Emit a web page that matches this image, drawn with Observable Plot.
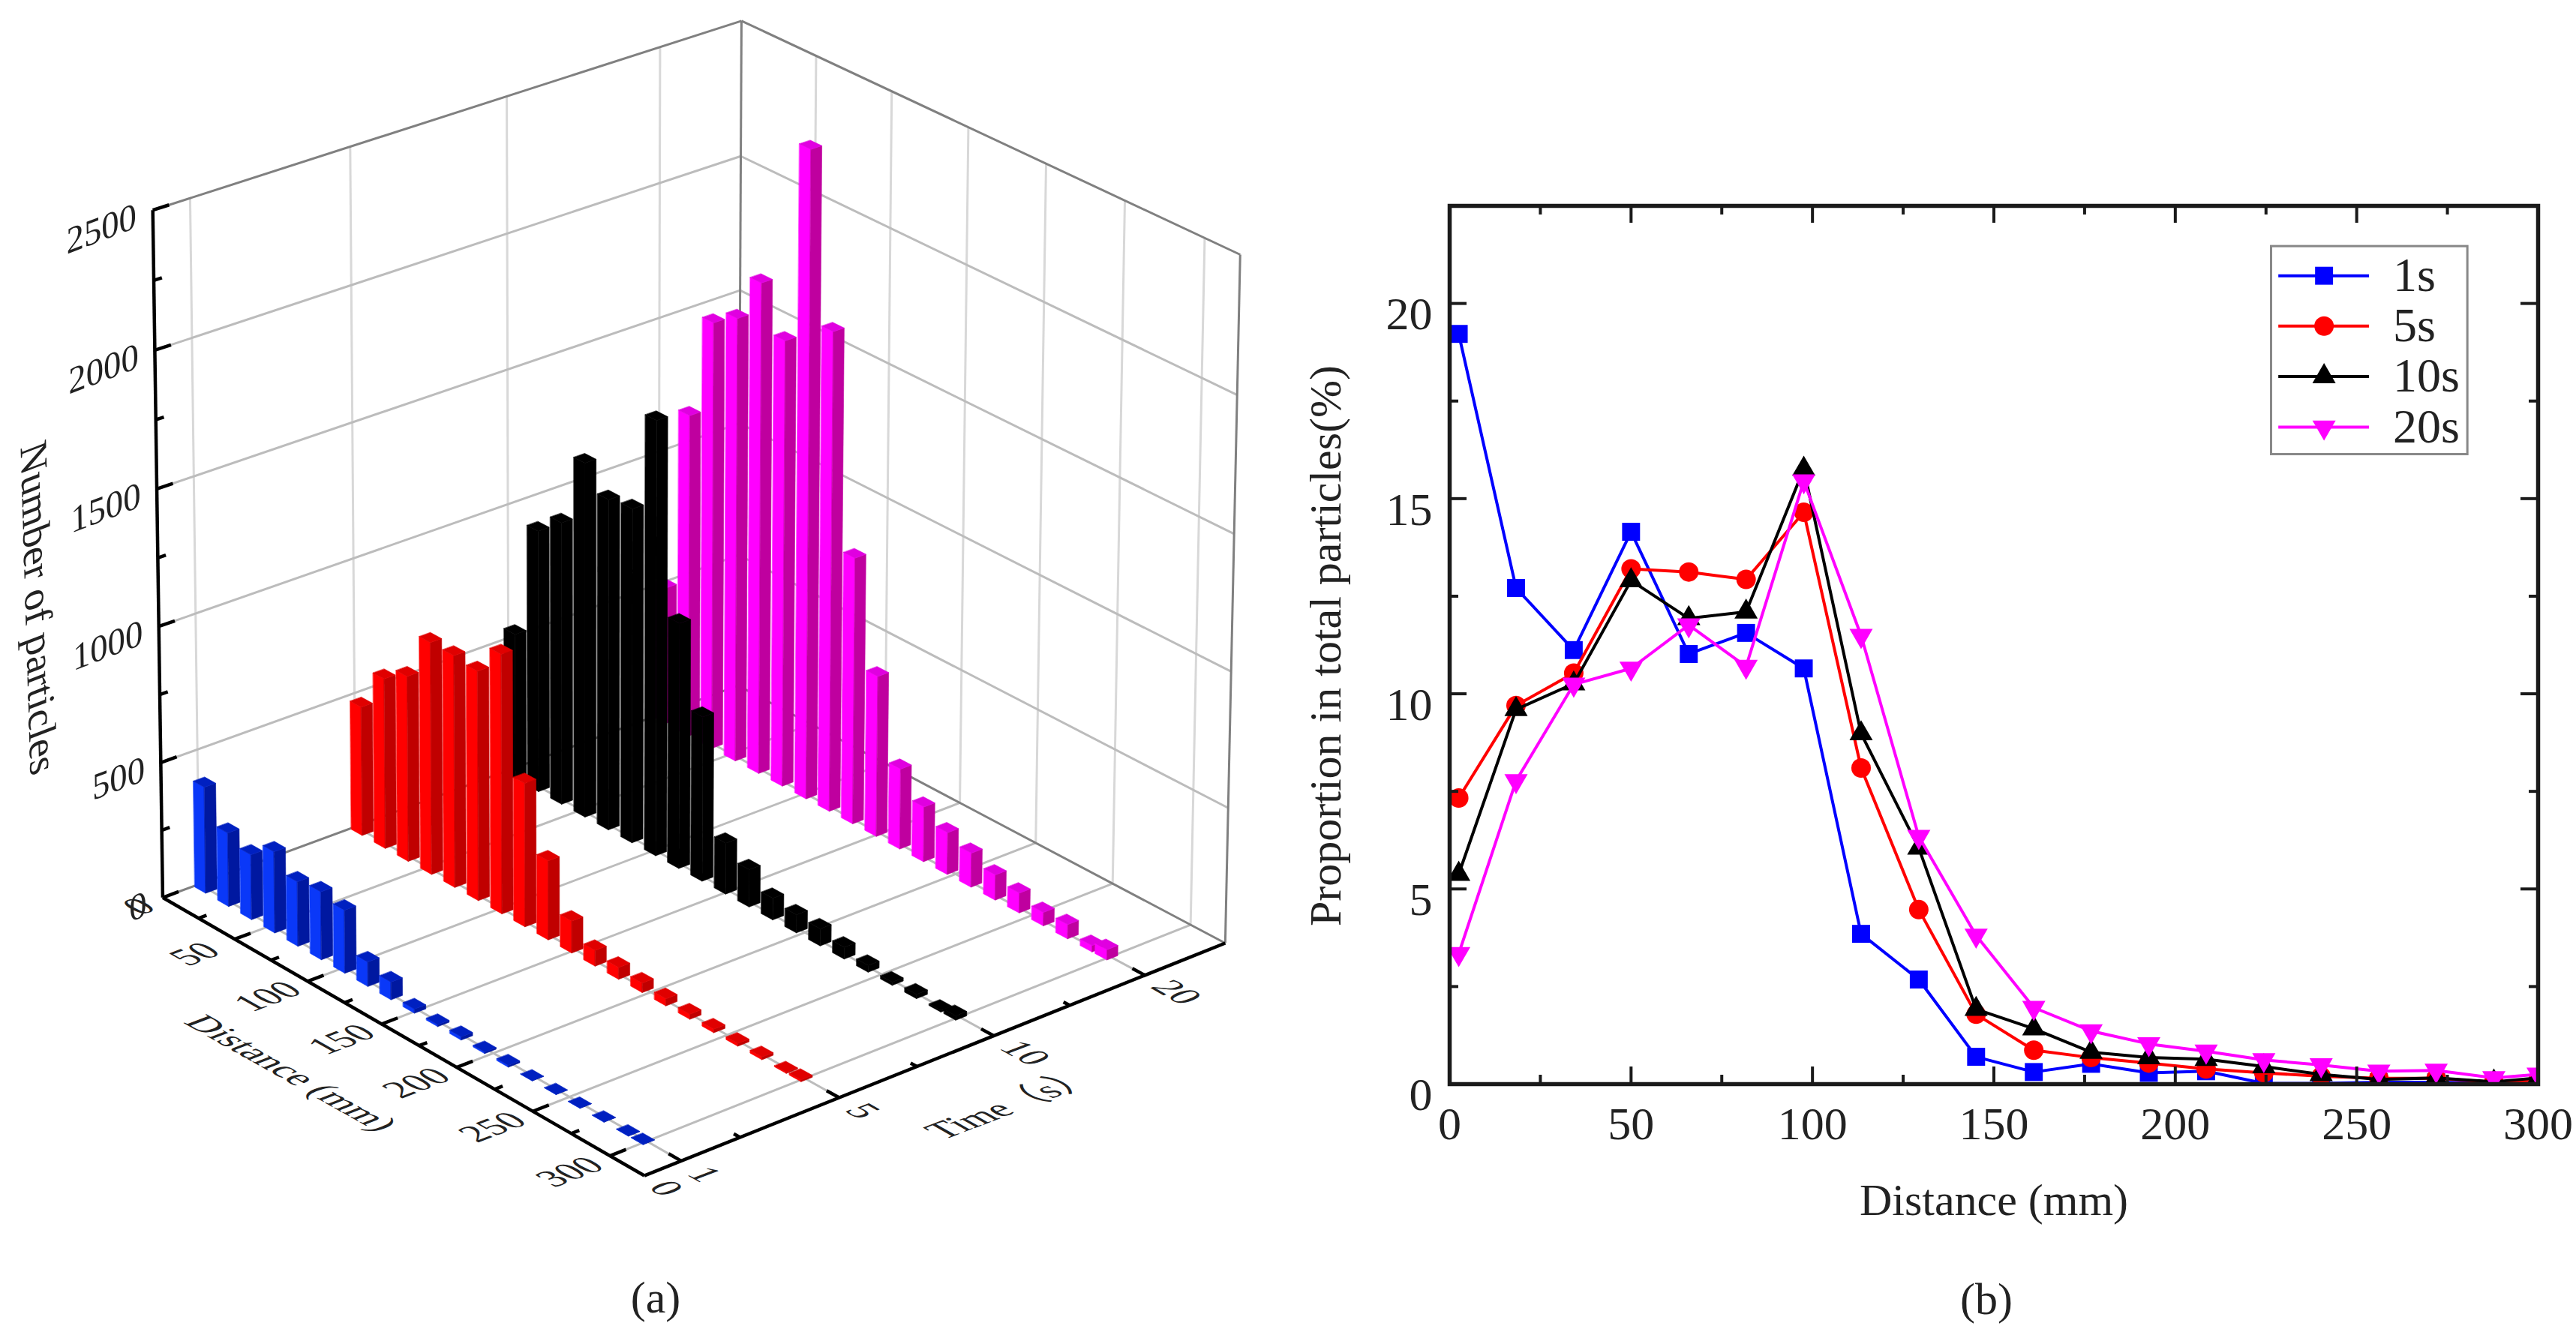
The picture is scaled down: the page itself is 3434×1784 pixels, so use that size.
<!DOCTYPE html>
<html><head><meta charset="utf-8">
<style>
html,body{margin:0;background:#fff}
#page{position:relative;width:3434px;height:1784px;overflow:hidden;font-family:"Liberation Serif","Noto Sans CJK SC",serif;color:#222}
.panel{position:absolute;top:0}
.caption{position:absolute;font-size:60px;line-height:70px;transform:translateX(-50%);white-space:nowrap}
</style>
<script src="https://cdn.jsdelivr.net/npm/d3@7"></script>
<script src="https://cdn.jsdelivr.net/npm/@observablehq/plot@0.6"></script>
</head><body>
<div id="page">
  <div class="panel" id="a" style="left:0"></div>
  <div class="panel" id="b" style="left:1700px"></div>
  <div class="caption" style="left:874px;top:1695px">(a)</div>
  <div class="caption" style="left:2648px;top:1697px">(b)</div>
</div>
<script>
// ---------- data ----------
const distances = [2.5,18.3,34.2,50,65.9,81.7,97.6,113.4,129.3,145.1,161,176.8,192.7,208.5,224.4,240.2,256.1,271.9,287.8,300];
const barDistances = [4.7,20.7,36.6,52.6,68.5,84.5,100.5,116.1,131.7,147.4,163,178.6,194.2,209.8,225.5,241.1,256.7,272.3,288,297.5];
const seriesNames = ["1s","5s","10s","20s"];
const seriesTimes = [1,5,10,20];
const seriesColors = ["#0000ff","#ff0000","#000000","#ff00ff"];
const seriesSymbols = ["square","circle","triangle","triangle"];
const seriesRotate = [0,0,0,180];
const seriesRadius = [13.5,13,11.5,11.5];

const share1s  = [19.22,12.71,11.12,14.15,11.02,11.56,10.65,3.85,2.68,0.70,0.31,0.52,0.29,0.33,0.02,0.02,0.05,0.05,0.03,0.02];
const share5s  = [7.33,9.70,10.53,13.20,13.12,12.93,14.65,8.10,4.47,1.79,0.87,0.68,0.54,0.39,0.29,0.20,0.15,0.15,0.05,0.10];
const share10s = [5.38,9.60,10.26,12.90,11.93,12.10,15.76,8.98,6.05,1.92,1.42,0.82,0.68,0.64,0.45,0.25,0.12,0.16,0.06,0.16];
const share20s = [3.34,7.77,10.24,10.65,11.76,10.70,15.45,11.49,6.34,3.81,1.96,1.36,1.03,0.84,0.62,0.49,0.33,0.35,0.16,0.25];

const count1s  = [393,272,240,300,238,250,232,90,65,15,7,12,6,7,1,1,1,1,1,1];
const count5s  = [480,632,688,860,858,848,957,530,292,118,58,44,35,26,19,13,10,10,4,7];
const count10s = [545,977,1053,1319,1229,1241,1609,910,611,190,139,80,67,63,44,25,12,16,6,16];
const count20s = [515,1209,1598,1658,1832,1663,2405,1783,993,599,300,205,156,127,94,74,50,53,24,38];

const barFaces = {
  1:  {left:"#0a38f8", right:"#0018a0", top:"#0020c0"},
  5:  {left:"#ff0000", right:"#c00000", top:"#e00000"},
  10: {left:"#000000", right:"#000000", top:"#000000"},
  20: {left:"#ff00ff", right:"#bf009f", top:"#e000e0"}
};

// ---------- panel (a): 3D projection calibrated on the box corners ----------
const dMax = 322, tMax = 3.77, zMax = 2500;
const timePos = new Map([[0,0],[1,0.23],[5,1.23],[10,2.23],[20,3.23]]);
const timeMinorPos = [0.6,1.73,2.73];
const zTicks = [0,500,1000,1500,2000,2500], zMinor = [250,750,1250,1750,2250];
const dTicks = [50,100,150,200,250,300], dMinor = [25,75,125,175,225,275];
const calibration = [
  [0,0,0,216,1198],[1,0,0,858,1566],[1,1,0,1632,1258],[0,1,0,985,912],
  [0,0,1,204,279],[0,1,1,986,28],[1,1,1,1654,339]
];
function solveCamera(pts){
  const A=[],B=[];
  for(const [X,Y,Z,u,v] of pts){
    A.push([X,Y,Z,1,0,0,0,0,-u*X,-u*Y,-u*Z]);B.push(u);
    A.push([0,0,0,0,X,Y,Z,1,-v*X,-v*Y,-v*Z]);B.push(v);
  }
  const n=11,M=d3.range(n).map(i=>d3.range(n+1).map(j=>{
    let s=0;for(let r=0;r<A.length;r++)s+=A[r][i]*(j<n?A[r][j]:B[r]);return s;}));
  for(let c=0;c<n;c++){
    let p=c;for(let r=c+1;r<n;r++)if(Math.abs(M[r][c])>Math.abs(M[p][c]))p=r;
    [M[c],M[p]]=[M[p],M[c]];
    for(let r=0;r<n;r++)if(r!==c){const f=M[r][c]/M[c][c];for(let j=c;j<=n;j++)M[r][j]-=f*M[c][j];}
  }
  return d3.range(n).map(i=>M[i][n]/M[i][i]);
}
const cam = solveCamera(calibration);
function project(d,t,z){
  const X=d/dMax,Y=t/tMax,Z=z/zMax,w=cam[8]*X+cam[9]*Y+cam[10]*Z+1;
  return [(cam[0]*X+cam[1]*Y+cam[2]*Z+cam[3])/w,(cam[4]*X+cam[5]*Y+cam[6]*Z+cam[7])/w];
}
function seg(a,b){const p=project(...a),q=project(...b);return {x1:p[0],y1:p[1],x2:q[0],y2:q[1]};}
function pos(label,d,t,z){const p=project(d,t,z);return {label,x:p[0],y:p[1]};}
function dir(a,b){const p=project(...a),q=project(...b),dx=q[0]-p[0],dy=q[1]-p[1],l=Math.hypot(dx,dy);return [dx/l,dy/l];}

const dDir = dir([100,1,0],[200,1,0]), tDir = dir([150,1,0],[150,3,0]), zDir = dir([0,0,0],[0,0,2500]);
const sheared = (b,u)=>(index,scales,values,dims,ctx,next)=>{
  const g=next(index,scales,values,dims,ctx);
  for(const t of g.querySelectorAll("text"))
    t.setAttribute("transform",(t.getAttribute("transform")||"")+` matrix(${b[0]} ${b[1]} ${-u[0]} ${-u[1]} 0 0)`);
  return g;
};
const neg = v=>[-v[0],-v[1]];

// bars as polygons, painted back to front
const counts = [count1s,count5s,count10s,count20s];
const w=3.8, v=0.036, polys=[];
let pid=0;
for(let s=3;s>=0;s--){
  const t=timePos.get(seriesTimes[s]),face=barFaces[seriesTimes[s]];
  barDistances.forEach((d,i)=>{
    const c=counts[s][i];
    const add=(fill,corners)=>{pid++;for(const q of corners){const p=project(...q);polys.push({id:pid,x:p[0],y:p[1],fill});}};
    add(face.left,[[d-w,t-v,0],[d+w,t-v,0],[d+w,t-v,c],[d-w,t-v,c]]);
    add(face.right,[[d+w,t-v,0],[d+w,t+v,0],[d+w,t+v,c],[d+w,t-v,c]]);
    add(face.top,[[d-w,t-v,c],[d+w,t-v,c],[d+w,t+v,c],[d-w,t+v,c]]);
  });
}
const timeMajor=[1,5,10,20].map(k=>timePos.get(k));
const gridLight=[
  ...timeMajor.map(t=>seg([0,t,0],[0,t,zMax])),
  ...dTicks.map(d=>seg([d,tMax,0],[d,tMax,zMax]))
];
const gridMid=[
  ...zTicks.slice(1,-1).flatMap(z=>[seg([0,0,z],[0,tMax,z]),seg([0,tMax,z],[dMax,tMax,z])]),
  ...timeMajor.map(t=>seg([0,t,0],[dMax,t,0])),
  ...dTicks.map(d=>seg([d,0,0],[d,tMax,0]))
];
const edges=[
  seg([0,0,zMax],[0,tMax,zMax]),seg([0,tMax,zMax],[dMax,tMax,zMax]),
  seg([0,tMax,0],[0,tMax,zMax]),seg([dMax,tMax,0],[dMax,tMax,zMax]),
  seg([0,0,0],[0,tMax,0]),seg([0,tMax,0],[dMax,tMax,0])
];
const axes3d=[
  seg([0,0,0],[dMax,0,0]),seg([dMax,0,0],[dMax,tMax,0]),seg([0,0,0],[0,0,zMax]),
  ...zTicks.map(z=>seg([0,0,z],[0,0.1,z])),...zMinor.map(z=>seg([0,0,z],[0,0.05,z])),
  ...dTicks.map(d=>seg([d,0,0],[d,0.1,0])),...dMinor.map(d=>seg([d,0,0],[d,0.05,0])),
  ...timeMajor.map(t=>seg([dMax,t,0],[dMax-8,t,0])),...timeMinorPos.map(t=>seg([dMax,t,0],[dMax-4,t,0]))
];
const zLabels=zTicks.map(z=>pos(String(z),0,-0.1,z));
const dLabels=[0,...dTicks].map(d=>pos(String(d),d,d===0?-0.15:-0.25,0));
const tLabels=[[0,14],[1,15],[5,15],[10,20],[20,20]].map(([k,o])=>pos(String(k),dMax+o,timePos.get(k),0));
const textStyle={text:"label",x:"x",y:"y",fontSize:50,fill:"#222"};

const chartA=Plot.plot({
  width:1700,height:1784,margin:0,
  x:{domain:[0,1700],range:[0,1700],axis:null},
  y:{domain:[0,1784],range:[0,1784],axis:null},
  color:{type:"identity"},
  style:{fontFamily:'"Liberation Serif","Noto Sans CJK SC",serif',background:"transparent"},
  marks:[
    Plot.link(gridLight,{x1:"x1",y1:"y1",x2:"x2",y2:"y2",stroke:"#d8d8d8",strokeWidth:3}),
    Plot.link(gridMid,{x1:"x1",y1:"y1",x2:"x2",y2:"y2",stroke:"#bcbcbc",strokeWidth:3}),
    Plot.link(edges,{x1:"x1",y1:"y1",x2:"x2",y2:"y2",stroke:"#808080",strokeWidth:3}),
    Plot.line(polys,{x:"x",y:"y",z:"id",fill:"fill",stroke:"fill",strokeWidth:0.6,curve:"linear-closed"}),
    Plot.link(axes3d,{x1:"x1",y1:"y1",x2:"x2",y2:"y2",stroke:"#000",strokeWidth:4.5}),
    Plot.text(zLabels,{...textStyle,textAnchor:"end",render:sheared(tDir,zDir)}),
    Plot.text(dLabels,{...textStyle,render:sheared(tDir,neg(dDir))}),
    Plot.text(tLabels,{...textStyle,render:sheared(dDir,tDir)}),
    Plot.text([pos("Distance (mm)",160,-0.655,0)],{...textStyle,fontSize:50,render:sheared(dDir,tDir)}),
    Plot.text([pos("Time（s）",372,1.83,0)],{...textStyle,render:sheared(tDir,neg(dDir))}),
    Plot.text([{label:"Number of particles",x:50,y:810}],{...textStyle,fontSize:55,render:sheared([0.03,1],tDir)})
  ]
});
document.getElementById("a").append(chartA);

// ---------- panel (b) ----------
const shares=[share1s,share5s,share10s,share20s];
const rows=seriesNames.flatMap((name,s)=>distances.map((d,i)=>({name,s,d,v:shares[s][i]})));
const xMajor=d3.range(0,301,50), xMinor=d3.range(25,300,50), yMajor=d3.range(0,21,5), yMinor=d3.range(2.5,22,5);
const pxX=300/1451, pxY=22.5/1171;
const major=23, minor=12;
const legendY=[20.71,19.42,18.13,16.83];
const tickColor="#1a1a1a";
const seriesMarks=seriesNames.flatMap((name,s)=>{
  const data=rows.filter(r=>r.s===s), c=seriesColors[s];
  return [
    Plot.line(data,{x:"d",y:"v",stroke:c,strokeWidth:4,clip:"frame"}),
    Plot.dot(data,{x:"d",y:"v",fill:c,stroke:"none",symbol:seriesSymbols[s],r:seriesRadius[s],rotate:seriesRotate[s],clip:"frame"})
  ];
});
const legendMarks=seriesNames.flatMap((name,s)=>{
  const c=seriesColors[s],row=[{name,y:legendY[s]}];
  return [
    Plot.ruleY(row,{y:"y",x1:228.5,x2:253.5,stroke:c,strokeWidth:4}),
    Plot.dot(row,{x:241,y:"y",fill:c,stroke:"none",symbol:seriesSymbols[s],r:seriesRadius[s],rotate:seriesRotate[s]}),
    Plot.text(row,{x:260,y:"y",text:"name",textAnchor:"start",fontSize:64,fill:"#222"})
  ];
});
const chartB=Plot.plot({
  width:1734,height:1784,marginLeft:232,marginRight:51,marginTop:274,marginBottom:339,
  x:{domain:[0,300],axis:null},
  y:{domain:[0,22.5],axis:null},
  style:{fontFamily:'"Liberation Serif",serif',background:"transparent"},
  marks:[
    ...seriesMarks,
    Plot.ruleX(xMajor,{x:d=>d,y1:0,y2:major*pxY,stroke:tickColor,strokeWidth:4}),
    Plot.ruleX(xMinor,{x:d=>d,y1:0,y2:minor*pxY,stroke:tickColor,strokeWidth:4}),
    Plot.ruleX(xMajor,{x:d=>d,y1:22.5-major*pxY,y2:22.5,stroke:tickColor,strokeWidth:4}),
    Plot.ruleX(xMinor,{x:d=>d,y1:22.5-minor*pxY,y2:22.5,stroke:tickColor,strokeWidth:4}),
    Plot.ruleY(yMajor,{y:d=>d,x1:0,x2:major*pxX,stroke:tickColor,strokeWidth:4}),
    Plot.ruleY(yMinor,{y:d=>d,x1:0,x2:minor*pxX,stroke:tickColor,strokeWidth:4}),
    Plot.ruleY(yMajor,{y:d=>d,x1:300-major*pxX,x2:300,stroke:tickColor,strokeWidth:4}),
    Plot.ruleY(yMinor,{y:d=>d,x1:300-minor*pxX,x2:300,stroke:tickColor,strokeWidth:4}),
    Plot.frame({stroke:"#1a1a1a",strokeWidth:5.5}),
    Plot.axisX(xMajor,{tickSize:0,tickPadding:29,fontSize:62,label:null,fill:"#222",tickFormat:d=>String(d)}),
    Plot.axisY(yMajor,{tickSize:0,tickPadding:23,fontSize:62,label:null,dy:15,fill:"#222",tickFormat:d=>String(d)}),
    Plot.text(["Distance (mm)"],{x:150,y:-2.98,text:d=>d,fontSize:60,fill:"#222"}),
    Plot.text(["Proportion in total particles(%)"],{x:-34.07,y:11.23,text:d=>d,fontSize:60,rotate:-90,fill:"#222"}),
    Plot.rect([{x1:226.5,x2:280.6,y1:16.13,y2:21.46}],{x1:"x1",x2:"x2",y1:"y1",y2:"y2",fill:"#fff",stroke:"#888",strokeWidth:3}),
    ...legendMarks
  ]
});
document.getElementById("b").append(chartB);
</script>
</body></html>
